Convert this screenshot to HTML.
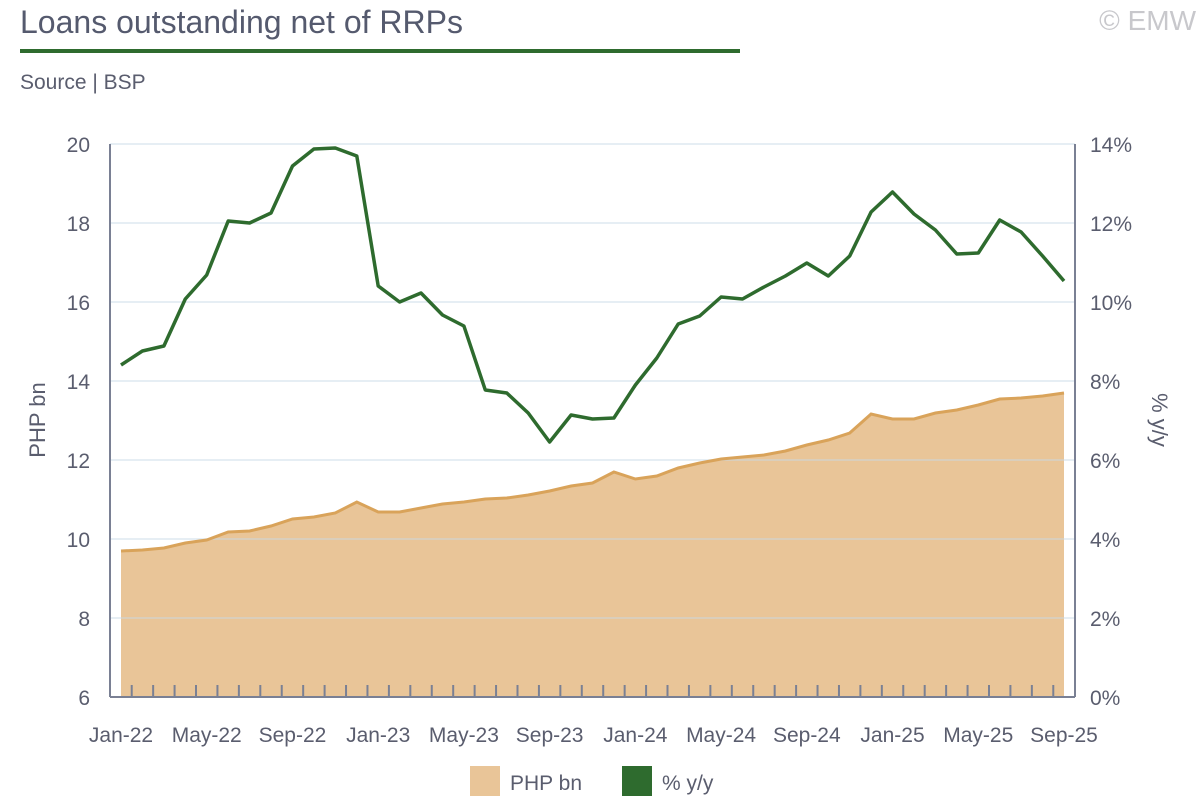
<!DOCTYPE html>
<html><head><meta charset="utf-8"><style>
body{margin:0;background:#fff;width:1200px;height:800px;overflow:hidden;font-family:"Liberation Sans",sans-serif;}
</style></head><body>
<svg id="s" width="1200" height="800" xmlns="http://www.w3.org/2000/svg" font-family="Liberation Sans, sans-serif">
<text x="20" y="33" font-size="32" fill="#555a6e">Loans outstanding net of RRPs</text>
<rect x="20" y="49" width="720" height="4" fill="#2e6b2e"/>
<text x="1196" y="30" font-size="28" fill="#c8c8cc" text-anchor="end">© EMW</text>
<text x="20" y="89" font-size="21" fill="#5a5d6e">Source | BSP</text>
<path id="area" fill="#e9c598"/>
<g id="grid"></g>
<polyline id="oline" fill="none" stroke="#d9a35a" stroke-width="3"/>
<polyline id="gline" fill="none" stroke="#2e6b2e" stroke-width="3.5" stroke-linejoin="round"/>
<g id="ax"></g>
<text transform="translate(45,420) rotate(-90)" font-size="22" fill="#5a5d6e" text-anchor="middle">PHP bn</text>
<text transform="translate(1152,420) rotate(90)" font-size="22" fill="#5a5d6e" text-anchor="middle">% y/y</text>
<rect x="470" y="766" width="30" height="30" fill="#e9c598"/>
<text x="510" y="790" font-size="21" fill="#5a5d6e">PHP bn</text>
<rect x="622" y="766" width="30" height="30" fill="#2e6b2e"/>
<text x="662" y="790" font-size="21" fill="#5a5d6e">% y/y</text>
</svg>
<script>
(function(){
var g=[365,351,346,299,275,221,223,213,166,149,148,156,286,302,293,315,326,390,393,413,442,415,419,418,385,358,324,316,297,299,287,276,263,276,256,212,192,214,230,254,253,220,232,256,281];
var o=[551,550,548,543,540,532,531,526,519,517,513,502,512,512,508,504,502,499,498,495,491,486,483,472,479,476,468,463,459,457,455,451,445,440,433,414,419,419,413,410,405,399,398,396,393];
var x0=121,st=943/44,T=144,B=697;
function X(i){return x0+i*st;}
var gp=g.map(function(v,i){return X(i).toFixed(1)+","+v}).join(" ");
var op=o.map(function(v,i){return X(i).toFixed(1)+","+v}).join(" ");
document.getElementById("gline").setAttribute("points",gp);
document.getElementById("oline").setAttribute("points",op);
document.getElementById("area").setAttribute("d","M"+X(0)+","+B+" L"+op.split(" ").join(" L")+" L"+X(44)+","+B+"Z");
var h="";
for(var k=0;k<7;k++){var y=T+k*(B-T)/7;h+='<line x1="110" x2="1075" y1="'+y+'" y2="'+y+'" stroke="#c8d8e6" stroke-opacity="0.6" stroke-width="1.5"/>';}
document.getElementById("grid").innerHTML=h;
var a='<line x1="110" x2="110" y1="'+T+'" y2="'+B+'" stroke="#7a8094" stroke-width="2"/>';
a+='<line x1="1075" x2="1075" y1="'+T+'" y2="'+B+'" stroke="#7a8094" stroke-width="2"/>';
a+='<line x1="110" x2="1075" y1="'+B+'" y2="'+B+'" stroke="#7a8094" stroke-width="2"/>';
for(var i=0;i<44;i++){var xx=X(i)+st/2;a+='<line x1="'+xx+'" x2="'+xx+'" y1="685" y2="697" stroke="#7a8094" stroke-width="2"/>';}
for(var k=0;k<=7;k++){var y=B-k*(B-T)/7;
a+='<text x="90" y="'+(y+8)+'" font-size="21" fill="#5a5d6e" text-anchor="end">'+(6+2*k)+'</text>';
a+='<text x="1090" y="'+(y+8)+'" font-size="21" fill="#5a5d6e">'+(2*k)+'%</text>';}
var lab=["Jan-22","May-22","Sep-22","Jan-23","May-23","Sep-23","Jan-24","May-24","Sep-24","Jan-25","May-25","Sep-25"];
for(var j=0;j<12;j++){a+='<text x="'+X(j*4)+'" y="742" font-size="21" fill="#5a5d6e" text-anchor="middle">'+lab[j]+'</text>';}
document.getElementById("ax").innerHTML=a;
})();
</script>
</body></html>
